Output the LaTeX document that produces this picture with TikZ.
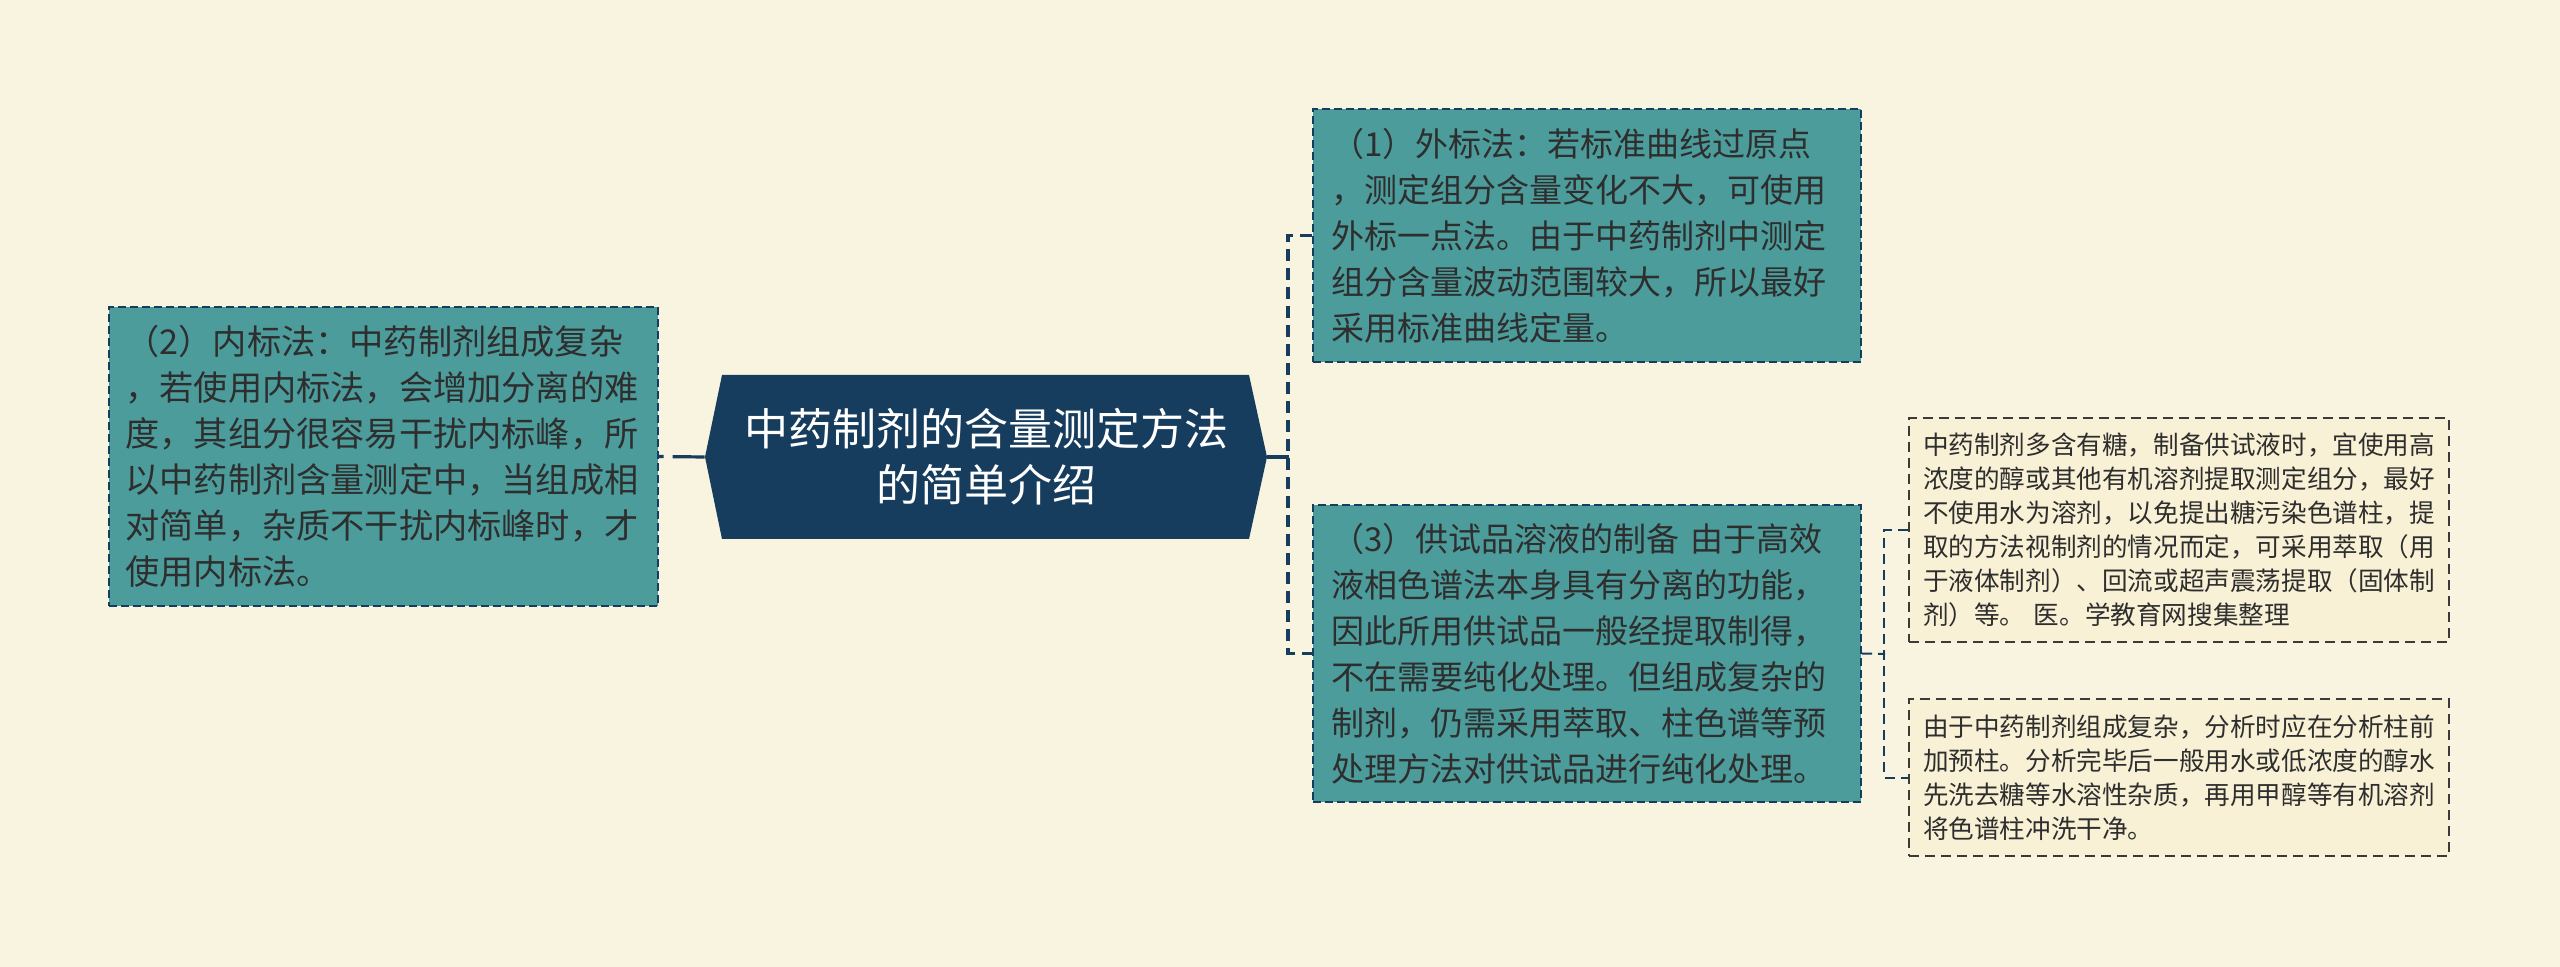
\documentclass[tikz,border=0pt]{standalone}
\usepackage{fontspec}
\setmainfont{Noto Sans CJK SC}
\definecolor{bgc}{HTML}{F9F4E0}
\definecolor{tealc}{HTML}{4C9C9C}
\definecolor{navyc}{HTML}{173D5E}
\definecolor{txtc}{HTML}{2E2E2E}
\definecolor{smallc}{HTML}{F8F1D6}
\definecolor{smallb}{HTML}{3A3A3A}
\tikzset{
  tealbox/.style={draw=navyc, fill=tealc, line width=1pt, dash pattern=on 4pt off 2pt,
    text=txtc, align=left, inner sep=0pt, font=\fontsize{16.5pt}{23pt}\selectfont},
  smallbox/.style={draw=smallb, fill=smallc, line width=0.8pt, dash pattern=on 5pt off 3pt,
    text=txtc, align=left, inner sep=0pt, font=\fontsize{12.8pt}{17pt}\selectfont,
    minimum width=270pt, text width=256pt},
  conn/.style={draw=navyc, line width=1.6pt},
  dconn/.style={draw=navyc, line width=1.6pt, dash pattern=on 6pt off 3.5pt},
  sconn/.style={draw=navyc, line width=1pt, dash pattern=on 5pt off 3pt},
}
\begin{document}
\begin{tikzpicture}[x=0.5pt,y=-0.5pt]
\fill[bgc] (0,0) rectangle (2560,967);
\useasboundingbox (0,0) rectangle (2560,967);
% central hexagon
\fill[navyc] (705,457) -- (722,375) -- (1249,375) -- (1267,457) -- (1249,539) -- (722,539) -- cycle;
\node[minimum width=281pt, minimum height=82pt, inner sep=0pt, text=white, align=center,
  font=\fontsize{22pt}{28pt}\selectfont] (title) at (986,457) {中药制剂的含量测定方法\\的简单介绍};
% left box
\node[tealbox, font=\fontsize{17.1pt}{23pt}\selectfont, minimum width=274.5pt, minimum height=149.5pt, text width=258pt] (b2) at (383.5,456.5)
 {（2）内标法：中药制剂组成复杂\\，若使用内标法，会增加分离的难\\度，其组分很容易干扰内标峰，所\\以中药制剂含量测定中，当组成相\\对简单，杂质不干扰内标峰时，才\\使用内标法。};
% right boxes
\node[tealbox, minimum width=274pt, minimum height=126.5pt, text width=256pt] (b1) at (1587,235.5)
 {（1）外标法：若标准曲线过原点\\，测定组分含量变化不大，可使用\\外标一点法。由于中药制剂中测定\\组分含量波动范围较大，所以最好\\采用标准曲线定量。};
\node[tealbox, minimum width=274pt, minimum height=148.5pt, text width=256pt] (b3) at (1587,653.5)
 {（3）供试品溶液的制备 由于高效\\液相色谱法本身具有分离的功能，\\因此所用供试品一般经提取制得，\\不在需要纯化处理。但组成复杂的\\制剂，仍需采用萃取、柱色谱等预\\处理方法对供试品进行纯化处理。};
% small boxes
\node[smallbox, minimum height=112pt] (sa) at (2179,530)
 {中药制剂多含有糖，制备供试液时，宜使用高\\浓度的醇或其他有机溶剂提取测定组分，最好\\不使用水为溶剂，以免提出糖污染色谱柱，提\\取的方法视制剂的情况而定，可采用萃取（用\\于液体制剂）、回流或超声震荡提取（固体制\\剂）等。 医。学教育网搜集整理};
\node[smallbox, minimum height=78.5pt] (sb) at (2179,777.5)
 {由于中药制剂组成复杂，分析时应在分析柱前\\加预柱。分析完毕后一般用水或低浓度的醇水\\先洗去糖等水溶性杂质，再用甲醇等有机溶剂\\将色谱柱冲洗干净。};
% connectors
\draw[conn, dash pattern=on 16pt off 4.5pt] (title.west) -- (b2.east);
\coordinate (jR) at (1289,457);
\draw[conn] (title.east) -- (jR);
\draw[dconn] (b1.west) -- ++(-24,0) |- (b3.west);
\coordinate (j3) at (1885,654);
\draw[sconn] (b3.east) -- (j3);
\draw[sconn] (sa.west) -- ++(-24,0) |- (sb.west);
\end{tikzpicture}
\end{document}
